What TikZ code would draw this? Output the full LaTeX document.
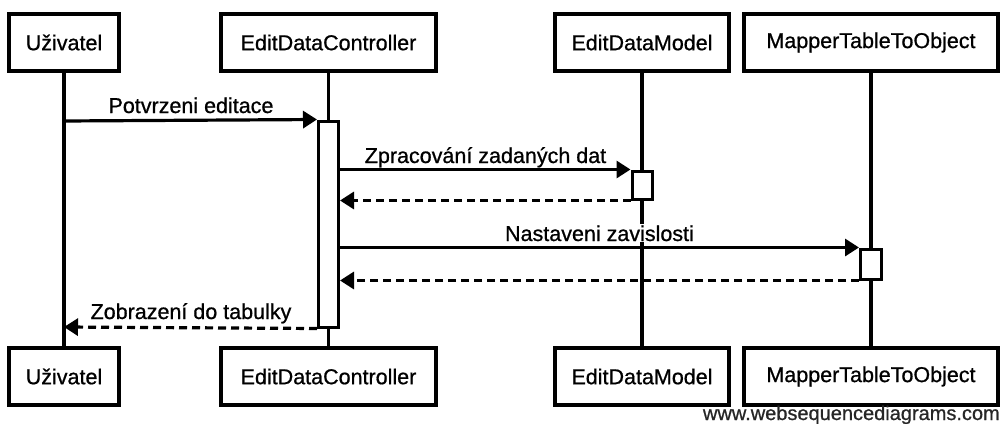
\documentclass[tikz,border=0pt]{standalone}
\usepackage{fontspec}
\setmainfont[FakeBold=0.8]{Liberation Sans}
\usetikzlibrary{arrows.meta}
\begin{document}
\begin{tikzpicture}[x=1pt,y=-1pt,
  every node/.style={font=\fontsize{21.5}{26}\selectfont},
  actor/.style={draw,line width=3.2pt,minimum height=57pt,inner sep=0pt,fill=white},
  life/.style={line width=3.2pt},
  act/.style={draw,line width=3pt,fill=white,inner sep=0pt,minimum width=20pt},
  msg/.style={line width=3.2pt,-{Triangle[length=14pt,width=17pt]}},
  ret/.style={msg,dash pattern=on 8pt off 5pt},
  lbl/.style={fill=white,inner sep=1pt,anchor=base}]
\useasboundingbox (0,0) rectangle (1006,423);

% participants, top row
\node[actor,minimum width=110pt] (uT) at (64,42.5) {Uživatel};
\node[actor,minimum width=215pt] (cT) at (328.5,42.5) {EditDataController};
\node[actor,minimum width=174pt] (mT) at (642,42.5) {EditDataModel};
\node[actor,minimum width=254pt] (pT) at (871,42.5) {MapperTableToObject};
% participants, bottom row
\node[actor,minimum width=110pt] (uB) at (64,376.5) {Uživatel};
\node[actor,minimum width=215pt] (cB) at (328.5,376.5) {EditDataController};
\node[actor,minimum width=174pt] (mB) at (642,376.5) {EditDataModel};
\node[actor,minimum width=254pt] (pB) at (871,376.5) {MapperTableToObject};

% lifelines
\draw[life] (uT.south) -- (uB.north);
\draw[life] (cT.south) -- (cB.north);
\draw[life] (mT.south) -- (mB.north);
\draw[life] (pT.south) -- (pB.north);

% points on the user lifeline
\coordinate (u1) at (64,121);
\coordinate (u6) at (64,327);

% label that sits over the EditDataModel lifeline
\node[lbl] (l3) at (599.5,241) {Nastaveni zavislosti};

% activations
\node[act,minimum height=206pt] (cA) at (328.5,224) {};
\node[act,minimum height=28pt] (mA) at (642,185) {};
\node[act,minimum height=30pt,minimum width=21pt] (pA) at (871,264) {};

% messages
\draw[msg] (u1) -- (cA.north west);
\node[lbl] (l1) at (191,113) {Potvrzeni editace};

\draw[msg] (cA.east |- mA.north) -- (mA.north west);
\node[lbl] (l2) at (485.5,163) {Zpracování zadaných dat};

\draw[ret] (mA.south west) -- (cA.east |- mA.south);

\draw[msg] (cA.east |- pA.north) -- (pA.north west);

\draw[ret] (pA.south west) -- (cA.east |- pA.south);

\draw[ret] (cA.south west) -- (u6);
\node[lbl] (l6) at (191,319) {Zobrazení do tabulky};

% watermark
\node[anchor=base east,inner sep=0pt,font=\fontsize{20}{24}\selectfont,text=black!85] (wm) at (1000,420) {www.websequencediagrams.com};
\end{tikzpicture}
\end{document}
